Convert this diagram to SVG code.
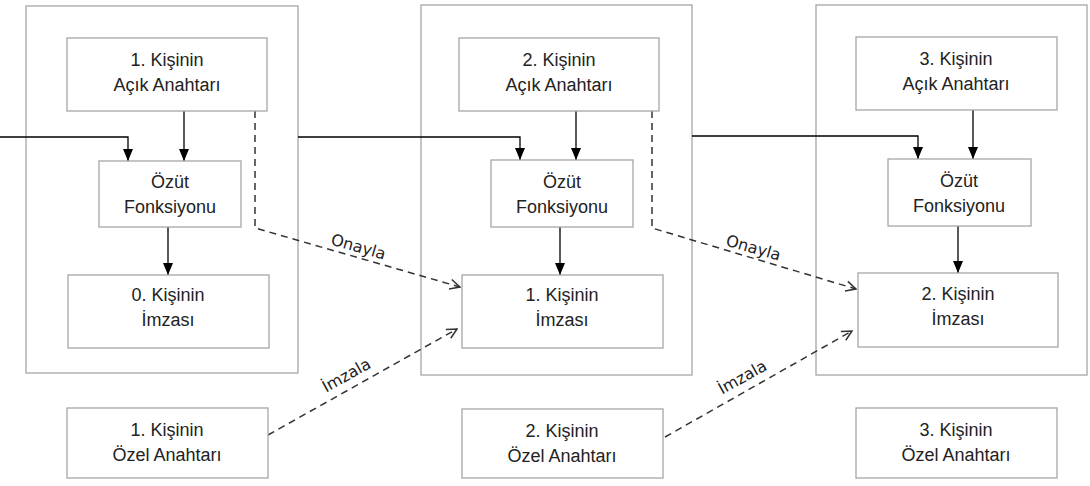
<svg xmlns="http://www.w3.org/2000/svg" width="1090" height="486" viewBox="0 0 1090 486">
<style>
.panel{fill:none;stroke:#a6a6a6;stroke-width:1.3}
.box{fill:#fff;stroke:#a6a6a6;stroke-width:1.3}
.t{font-family:"Liberation Sans",Arial,sans-serif;font-size:18px;fill:#222;text-anchor:middle}
.lbl{font-family:"DejaVu Sans",sans-serif;font-size:16px;fill:#222;text-anchor:middle}
.solid{fill:none;stroke:#000;stroke-width:1.3}
.dash{fill:none;stroke:#333;stroke-width:1.5;stroke-dasharray:7,5}
</style>
<defs>
<marker id="fa" viewBox="0 0 12 10" refX="12" refY="5" markerWidth="12" markerHeight="10" markerUnits="userSpaceOnUse" orient="auto">
<path d="M0,0 L12,5 L0,10 z" fill="#000"/>
</marker>
<marker id="oa" viewBox="0 0 12 12" refX="11" refY="6" markerWidth="12" markerHeight="12" markerUnits="userSpaceOnUse" orient="auto">
<path d="M1,1 L11,6 L1,11" fill="none" stroke="#333" stroke-width="1.5"/>
</marker>
</defs>
<g id="panels">
<rect class="panel" x="26" y="6" width="272" height="367"/>
<rect class="panel" x="421" y="5" width="271" height="370"/>
<rect class="panel" x="816" y="5" width="271" height="370"/>
</g>
<g id="connectors">
<polyline class="solid" points="0,137 128,137 128,161" marker-end="url(#fa)"/>
<line class="solid" x1="184" y1="111" x2="184" y2="161" marker-end="url(#fa)"/>
<line class="solid" x1="168" y1="227" x2="168" y2="275" marker-end="url(#fa)"/>
<polyline class="solid" points="298,137 520,137 520,160" marker-end="url(#fa)"/>
<line class="solid" x1="576" y1="111" x2="576" y2="160" marker-end="url(#fa)"/>
<line class="solid" x1="560" y1="227" x2="560" y2="275" marker-end="url(#fa)"/>
<polyline class="solid" points="692,136 918,136 918,159" marker-end="url(#fa)"/>
<line class="solid" x1="973" y1="110" x2="973" y2="159" marker-end="url(#fa)"/>
<line class="solid" x1="958" y1="226" x2="958" y2="273" marker-end="url(#fa)"/>
<polyline class="dash" points="255,111 255,228 460,287" marker-end="url(#oa)"/>
<polyline class="dash" points="652,111 652,228 856,289" marker-end="url(#oa)"/>
<line class="dash" x1="268" y1="435" x2="457" y2="329" marker-end="url(#oa)"/>
<line class="dash" x1="665" y1="437" x2="852" y2="331" marker-end="url(#oa)"/>
<text class="lbl" transform="translate(357,252) rotate(16)">Onayla</text>
<text class="lbl" transform="translate(752,253) rotate(16)">Onayla</text>
<text class="lbl" transform="translate(349,380) rotate(-29)">İmzala</text>
<text class="lbl" transform="translate(745,382) rotate(-29)">İmzala</text>
</g>
<g id="key1"><rect class="box" x="67" y="38" width="200" height="73"/><text class="t" x="167" y="66">1. Kişinin</text><text class="t" x="167" y="91">Açık Anahtarı</text></g>
<g id="hash1"><rect class="box" x="99" y="161" width="142" height="66"/><text class="t" x="170" y="188">Özüt</text><text class="t" x="170" y="213">Fonksiyonu</text></g>
<g id="sig0"><rect class="box" x="68" y="275" width="201" height="73"/><text class="t" x="168" y="301">0. Kişinin</text><text class="t" x="168" y="326">İmzası</text></g>
<g id="priv1"><rect class="box" x="67" y="408" width="201" height="70"/><text class="t" x="167" y="436">1. Kişinin</text><text class="t" x="167" y="461">Özel Anahtarı</text></g>
<g id="key2"><rect class="box" x="459" y="38" width="200" height="73"/><text class="t" x="559" y="66">2. Kişinin</text><text class="t" x="559" y="91">Açık Anahtarı</text></g>
<g id="hash2"><rect class="box" x="491" y="160" width="142" height="67"/><text class="t" x="562" y="188">Özüt</text><text class="t" x="562" y="213">Fonksiyonu</text></g>
<g id="sig1"><rect class="box" x="462" y="275" width="201" height="73"/><text class="t" x="562" y="301">1. Kişinin</text><text class="t" x="562" y="326">İmzası</text></g>
<g id="priv2"><rect class="box" x="462" y="409" width="201" height="69"/><text class="t" x="562" y="437">2. Kişinin</text><text class="t" x="562" y="462">Özel Anahtarı</text></g>
<g id="key3"><rect class="box" x="856" y="37" width="201" height="73"/><text class="t" x="956" y="65">3. Kişinin</text><text class="t" x="956" y="90">Açık Anahtarı</text></g>
<g id="hash3"><rect class="box" x="888" y="159" width="143" height="67"/><text class="t" x="959" y="187">Özüt</text><text class="t" x="959" y="212">Fonksiyonu</text></g>
<g id="sig2"><rect class="box" x="858" y="273" width="200" height="74"/><text class="t" x="958" y="300">2. Kişinin</text><text class="t" x="958" y="325">İmzası</text></g>
<g id="priv3"><rect class="box" x="856" y="408" width="201" height="70"/><text class="t" x="956" y="436">3. Kişinin</text><text class="t" x="956" y="461">Özel Anahtarı</text></g>
</svg>
